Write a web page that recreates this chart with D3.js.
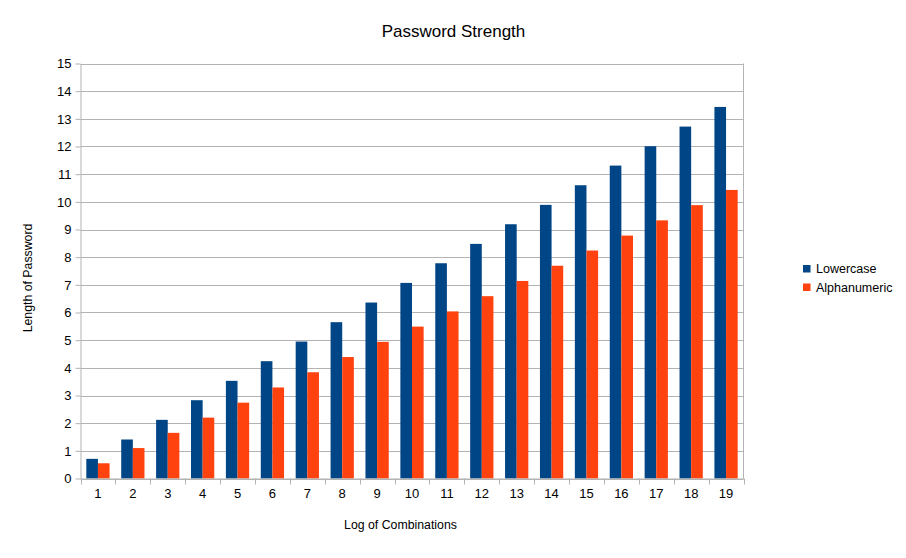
<!DOCTYPE html>
<html>
<head>
<meta charset="utf-8">
<script src="https://cdn.jsdelivr.net/npm/d3@7"></script>
<style>
  body { margin: 0; background: #fff; }
  svg { display: block; font-family: "Liberation Sans", Arial, sans-serif; }
</style>
</head>
<body>
<svg id="chart" width="906" height="558"></svg>
<script>
const categories = ["1","2","3","4","5","6","7","8","9","10","11","12","13","14","15","16","17","18","19"];
const seriesNames = ["Lowercase", "Alphanumeric"];
const lowercase = [0.71,1.41,2.12,2.83,3.53,4.24,4.95,5.65,6.36,7.07,7.78,8.48,9.19,9.89,10.60,11.31,12.01,12.72,13.43];
const alphanumeric = [0.55,1.10,1.65,2.20,2.74,3.29,3.84,4.39,4.94,5.49,6.04,6.59,7.14,7.69,8.24,8.78,9.33,9.88,10.43];
const yTicks = [0,1,2,3,4,5,6,7,8,9,10,11,12,13,14,15];
const colors = ["#004586", "#ff420e"];
const seriesValues = [lowercase, alphanumeric];

const svg = d3.select("#chart");
const m = {left: 80.5, right: 743.5, top: 63.5, bottom: 478.5};

const x = d3.scaleBand().domain(categories).range([m.left, m.right]).padding(0);
const xi = d3.scaleBand().domain(seriesNames).range([0, x.bandwidth()]).paddingInner(0).paddingOuter(0.5);
const y = d3.scaleLinear().domain([0, 15]).range([m.bottom, m.top]);

const grid = "#b3b3b3";

// gridlines
svg.append("g").selectAll("line").data(yTicks).join("line")
  .attr("x1", m.left).attr("x2", m.right)
  .attr("y1", d => Math.round(y(d)) + 0.5).attr("y2", d => Math.round(y(d)) + 0.5)
  .attr("stroke", grid).attr("stroke-width", 1);

// right frame
svg.append("line").attr("x1", m.right).attr("x2", m.right)
  .attr("y1", m.top).attr("y2", m.bottom).attr("stroke", grid);

// bars
const rows = categories.map((c, i) => ({c, vals: seriesNames.map((s, k) => ({s, k, v: seriesValues[k][i]}))}));
svg.append("g").selectAll("g").data(rows).join("g")
  .attr("transform", d => `translate(${x(d.c)},0)`)
  .selectAll("rect").data(d => d.vals).join("rect")
  .attr("x", d => xi(d.s))
  .attr("width", xi.bandwidth())
  .attr("y", d => y(d.v))
  .attr("height", d => y(0) - y(d.v))
  .attr("fill", d => colors[d.k]);

// y axis
const yAxis = d3.axisLeft(y).tickValues(yTicks).tickSize(5).tickPadding(4).tickSizeOuter(0);
const gy = svg.append("g").attr("transform", `translate(${m.left},0)`).call(yAxis);
gy.select(".domain").attr("stroke", grid);
gy.selectAll(".tick line").attr("stroke", grid);
gy.selectAll(".tick text").attr("font-size", 13).attr("fill", "#000").attr("font-family", "Liberation Sans, Arial, sans-serif");

// x axis
const xAxis = d3.axisBottom(x).tickSize(0).tickPadding(10).tickSizeOuter(0);
const gx = svg.append("g").attr("transform", `translate(0,${m.bottom})`).call(xAxis);
gx.select(".domain").attr("stroke", grid);
gx.selectAll(".tick text").attr("font-size", 13).attr("fill", "#000").attr("font-family", "Liberation Sans, Arial, sans-serif");
// x axis separator ticks at band boundaries
const bounds = categories.map(c => x(c)).concat([x(categories[categories.length-1]) + x.bandwidth()]);
svg.append("g").selectAll("line").data(bounds).join("line")
  .attr("x1", d => Math.round(d) + 0.5).attr("x2", d => Math.round(d) + 0.5)
  .attr("y1", m.bottom).attr("y2", m.bottom + 6)
  .attr("stroke", grid);

// title
svg.append("text").attr("x", 453.5).attr("y", 37).attr("text-anchor", "middle")
  .attr("font-size", 17).attr("fill", "#000").text("Password Strength");

// axis titles
svg.append("text").attr("x", 400.5).attr("y", 529).attr("text-anchor", "middle")
  .attr("font-size", 12.3).attr("fill", "#000").text("Log of Combinations");
svg.append("text").attr("transform", "translate(32,278) rotate(-90)").attr("text-anchor", "middle")
  .attr("font-size", 12.3).attr("fill", "#000").text("Length of Password");

// legend
const lg = svg.append("g").selectAll("g").data(seriesNames).join("g")
  .attr("transform", (d, i) => `translate(803,${265 + i * 18.5})`);
lg.append("rect").attr("width", 7.5).attr("height", 7.5).attr("fill", (d, i) => colors[i]);
lg.append("text").attr("x", 13).attr("y", 8).attr("font-size", 12.5).attr("fill", "#000").text(d => d);
</script>
</body>
</html>
